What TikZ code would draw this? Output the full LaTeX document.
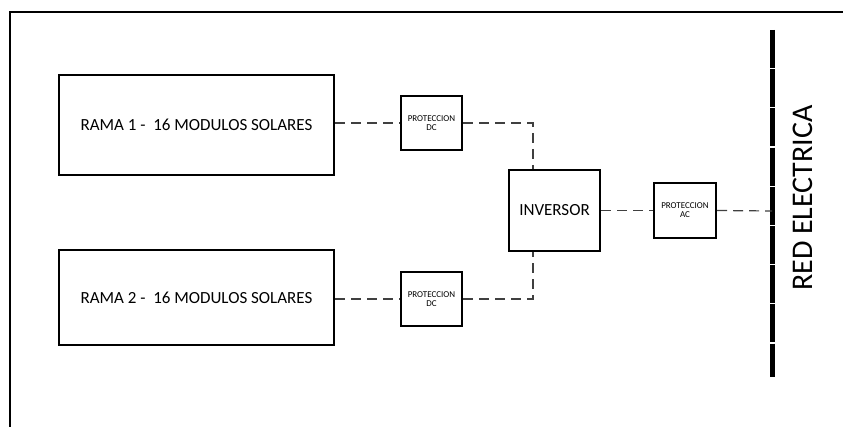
\documentclass[tikz,border=0pt]{standalone}
\usepackage{fontspec}
\setmainfont{Carlito}
\begin{document}
\begin{tikzpicture}[x=1pt,y=-1pt,
  blk/.style={draw=black,line width=2pt,fill=white,inner sep=0pt},
  small/.style={font=\fontsize{9}{9}\selectfont,align=center},
  conn/.style={draw=black!75,line width=1.2pt,dash pattern=on 10pt off 6pt},
  grid/.style={draw=black,line width=5pt,dash pattern=on 38pt off 1.2pt}]
\useasboundingbox (0,0) rectangle (843,427);
\draw[line width=2.5pt] (10,427) -- (10,12) -- (843,12);
\node[blk,minimum width=275pt,minimum height=100pt,font=\fontsize{17}{19}\selectfont] (r1) at (196.5,125) {RAMA 1 -\ \ 16 MODULOS SOLARES};
\node[blk,minimum width=275pt,minimum height=95pt,font=\fontsize{17}{19}\selectfont] (r2) at (196.5,297.5) {RAMA 2 -\ \ 16 MODULOS SOLARES};
\node[blk,small,minimum width=61pt,minimum height=54pt] (p1) at (431.5,123) {PROTECCION\\DC};
\node[blk,small,minimum width=61pt,minimum height=54pt] (p2) at (431.5,299) {PROTECCION\\DC};
\node[blk,minimum width=91pt,minimum height=81pt,font=\fontsize{17}{19}\selectfont] (inv) at (554.5,210.5) {INVERSOR};
\node[blk,small,minimum width=62pt,minimum height=55pt] (pac) at (685,210.5) {PROTECCION\\AC};
\coordinate (gt) at (772,30);
\coordinate (gb) at (772,377);
\coordinate (gm) at (772,211);
\coordinate (jx) at (533,0);
\draw[grid] (gt) -- (gb);
\node[rotate=90,font=\fontsize{30}{32}\selectfont] (red) at (803,198) {RED ELECTRICA};
\draw[conn] (r1.east |- p1.west) -- (p1.west);
\draw[conn] (p1.east) -- (jx |- p1.east) -- (jx |- inv.north);
\draw[conn] (r2.east |- p2.west) -- (p2.west);
\draw[conn] (p2.east) -- (jx |- p2.east) -- (jx |- inv.south);
\draw[conn] (inv.east) -- (pac.west);
\draw[conn] (pac.east) -- (gm);
\end{tikzpicture}
\end{document}
